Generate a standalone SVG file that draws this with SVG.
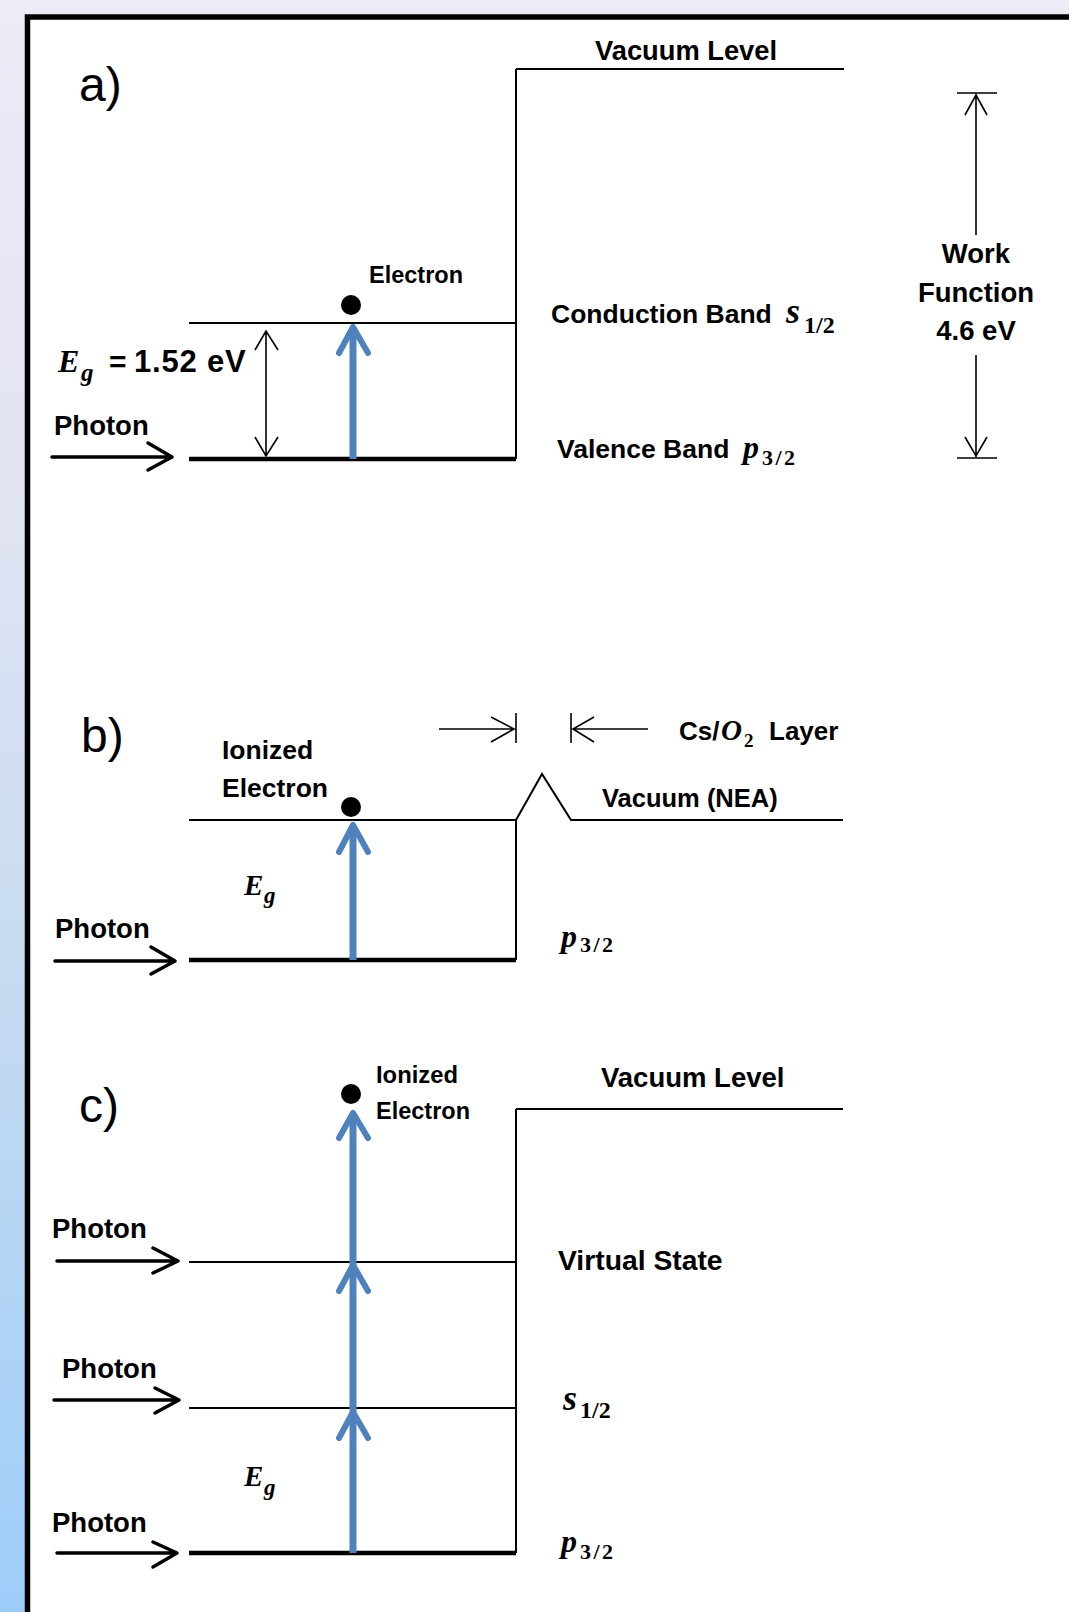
<svg xmlns="http://www.w3.org/2000/svg" width="1069" height="1612" viewBox="0 0 1069 1612">
<defs>
<linearGradient id="bg" x1="0" y1="0" x2="0" y2="1">
<stop offset="0" stop-color="#eeeaf6"/>
<stop offset="0.3" stop-color="#e2e4f2"/>
<stop offset="0.65" stop-color="#c2d9f1"/>
<stop offset="1" stop-color="#9ccdf9"/>
</linearGradient>
<style>
.lbl{font-family:"Liberation Sans",Arial,sans-serif;font-weight:bold;fill:#000}
.pan{font-family:"Liberation Sans",Arial,sans-serif;font-size:48px;fill:#000}
.m{font-family:"Liberation Serif","Times New Roman",serif;font-style:italic;font-weight:bold;fill:#000}
.sub{font-family:"Liberation Serif","Times New Roman",serif;font-weight:bold;fill:#000}
.lv{stroke:#000;stroke-width:2;fill:none}
.vb{stroke:#000;stroke-width:4.5;fill:none}
.ph{stroke:#000;stroke-width:3.5;fill:none;stroke-linecap:round;stroke-linejoin:round}
.bl{stroke:#4F81BD;stroke-width:7;fill:none}
.bh{stroke:#4F81BD;stroke-width:6;fill:none;stroke-linecap:round;stroke-linejoin:round}
.th{stroke:#000;stroke-width:1.6;fill:none}
</style>
</defs>
<rect width="1069" height="1612" fill="url(#bg)"/>
<rect id="frame" x="27.5" y="17" width="1100" height="1700" fill="#fff" stroke="#000" stroke-width="5.5"/>

<!-- Panel a -->
<g id="panel-a">
<text class="pan" x="79" y="101">a)</text>
<g id="a-vacuum">
<path class="lv" d="M516,69 H844"/>
<text class="lbl" x="595" y="60" font-size="27.3">Vacuum Level</text>
</g>
<g id="a-conduction">
<path class="lv" d="M189,323 H516"/>
<text class="lbl" x="551" y="323" font-size="26.5">Conduction Band</text>
<text class="m" x="786" y="323" font-size="36">s</text>
<text class="sub" x="804" y="333" font-size="24">1/2</text>
</g>
<g id="a-valence">
<path class="vb" d="M189,459 H516"/>
<text class="lbl" x="557" y="458" font-size="26.5">Valence Band</text>
<text class="m" x="743" y="458" font-size="32">p</text>
<text class="sub" x="762" y="465" font-size="22" letter-spacing="2.5">3/2</text>
</g>
<g id="a-electron">
<circle cx="351" cy="305" r="10" fill="#000"/>
<text class="lbl" x="369" y="283" font-size="23.5">Electron</text>
</g>
<g id="a-photon">
<text class="lbl" x="54" y="435" font-size="27.5">Photon</text>
</g>
<g id="a-gap">
<text class="m" x="58" y="372" font-size="32">E</text>
<text class="m" x="81" y="381" font-size="25">g</text>
<text class="lbl" x="109" y="372" font-size="30">=</text>
<text class="lbl" x="134" y="372" font-size="31" letter-spacing="0.8">1.52 eV</text>
</g>
<g id="a-work">
<text class="lbl" x="976" y="263" font-size="27.5" text-anchor="middle">Work</text>
<text class="lbl" x="976" y="302" font-size="27.5" text-anchor="middle">Function</text>
<text class="lbl" x="976" y="340" font-size="27.5" text-anchor="middle">4.6 eV</text>
</g>
</g>

<!-- Panel b -->
<g id="panel-b">
<text class="pan" x="81" y="752">b)</text>
<g id="b-electron">
<circle cx="351" cy="807" r="10" fill="#000"/>
<text class="lbl" x="222" y="759" font-size="26.5">Ionized</text>
<text class="lbl" x="222" y="797" font-size="26.5">Electron</text>
</g>
<g id="b-conduction">
<path class="lv" d="M189,820 H516"/>
</g>
<g id="b-vacuum">
<path class="lv" d="M516,820 L542,774 L571,820 H843"/>
<text class="lbl" x="602" y="807" font-size="25.5">Vacuum (NEA)</text>
</g>
<g id="b-valence">
<path class="vb" d="M189,960 H516"/>
<text class="m" x="561" y="947" font-size="32">p</text>
<text class="sub" x="580" y="952" font-size="22" letter-spacing="2.5">3/2</text>
</g>
<g id="b-gap">
<text class="m" x="244" y="895" font-size="29">E</text>
<text class="m" x="264" y="903" font-size="23">g</text>
</g>
<g id="b-photon">
<text class="lbl" x="55" y="938" font-size="27.5">Photon</text>
</g>
<g id="b-layer">
<text class="lbl" x="679" y="740" font-size="26">Cs/</text>
<text class="m" x="721" y="740" font-size="29">O</text>
<text class="sub" x="744" y="747" font-size="19">2</text>
<text class="lbl" x="769" y="740" font-size="26">Layer</text>
</g>
</g>

<!-- Panel c -->
<g id="panel-c">
<text class="pan" x="79" y="1122">c)</text>
<g id="c-electron">
<circle cx="351" cy="1094" r="10" fill="#000"/>
<text class="lbl" x="376" y="1083" font-size="23.8">Ionized</text>
<text class="lbl" x="376" y="1119" font-size="23.5">Electron</text>
</g>
<g id="c-vacuum">
<path class="lv" d="M516,1109 H843"/>
<text class="lbl" x="601" y="1087" font-size="27.5">Vacuum Level</text>
</g>
<g id="c-virtual">
<path class="lv" d="M189,1262 H516"/>
<text class="lbl" x="558" y="1270" font-size="28.3">Virtual State</text>
</g>
<g id="c-s12">
<path class="lv" d="M189,1408 H516"/>
<text class="m" x="563" y="1410" font-size="36">s</text>
<text class="sub" x="580" y="1418" font-size="24">1/2</text>
</g>
<g id="c-valence">
<path class="vb" d="M189,1553 H516"/>
<text class="m" x="561" y="1552" font-size="32">p</text>
<text class="sub" x="580" y="1559" font-size="22" letter-spacing="2.5">3/2</text>
</g>
<g id="c-gap">
<text class="m" x="244" y="1486" font-size="29">E</text>
<text class="m" x="264" y="1495" font-size="23">g</text>
</g>
<g id="c-photons">
<text class="lbl" x="52" y="1238" font-size="27.5">Photon</text>
<text class="lbl" x="62" y="1378" font-size="27.5">Photon</text>
<text class="lbl" x="52" y="1532" font-size="27.5">Photon</text>
</g>
</g>

<!-- Connectors -->
<g id="connectors">
<!-- barriers -->
<path class="lv" d="M516,69 V459"/>
<path class="lv" d="M516,820 V960"/>
<path class="lv" d="M516,1109 V1553"/>
<!-- photon arrows -->
<path class="ph" d="M52,457 H171 M148,443 L172,457 L148,470"/>
<path class="ph" d="M55,961 H174 M151,947 L175,961 L151,974"/>
<path class="ph" d="M57,1261 H177 M153,1248 L178,1261 L153,1273"/>
<path class="ph" d="M54,1400 H178 M155,1388 L179,1400 L155,1413"/>
<path class="ph" d="M57,1553 H176 M153,1542 L177,1553 L153,1567"/>
<!-- blue excitation arrows -->
<path class="bl" d="M353,459 V330"/>
<polyline class="bh" points="339,353 353,327 368,353"/>
<path class="bl" d="M353,960 V826"/>
<polyline class="bh" points="339,852 353,825 368,852"/>
<path class="bl" d="M353,1553 V1116"/>
<polyline class="bh" points="339,1138 353,1113 368,1138"/>
<polyline class="bh" points="339,1291 353,1265 368,1291"/>
<polyline class="bh" points="339,1438 353,1412 368,1438"/>
<!-- band gap double arrow -->
<path class="th" d="M266,331 V456 M255,350 L266,331 L278,350 M255,437 L266,456 L278,437"/>
<!-- work function dimension -->
<path class="th" d="M957,93 H997 M976,94 V235 M976,355 V457 M957,458 H997 M965,115 L976,95 L987,115 M965,437 L976,456 L987,437"/>
<!-- Cs/O2 layer markers -->
<path class="th" d="M439,729 H514 M491,717 L514,729 L491,742 M516,713 V743"/>
<path class="th" d="M571,713 V743 M594,717 L573,729 L594,742 M573,729 H648"/>
</g>
</svg>
